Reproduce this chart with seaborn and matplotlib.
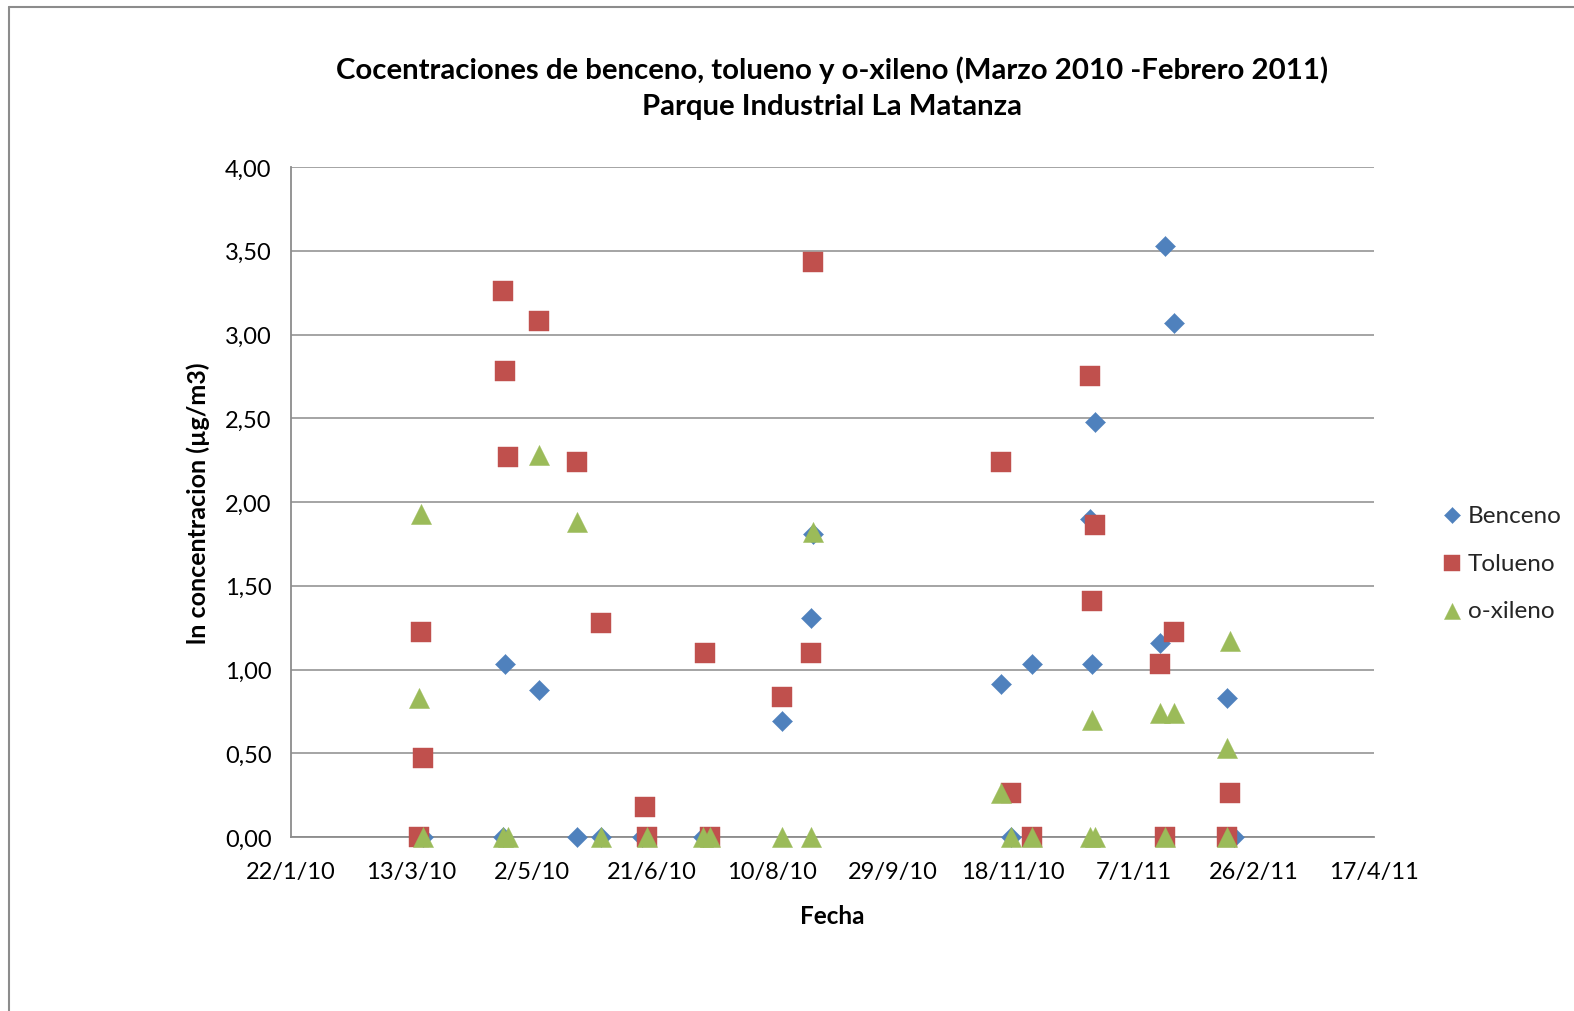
import matplotlib
matplotlib.use("Agg")
import matplotlib.pyplot as plt
import matplotlib.dates as mdates
from matplotlib.lines import Line2D
import seaborn as sns
import pandas as pd

# ---------------- data ----------------
benceno_fechas = ["2010-03-18", "2010-04-20", "2010-04-21", "2010-05-05", "2010-05-21",
                  "2010-05-31", "2010-06-17", "2010-07-12", "2010-08-14", "2010-08-26",
                  "2010-08-27", "2010-11-13", "2010-11-17", "2010-11-26", "2010-12-20",
                  "2010-12-21", "2010-12-22", "2011-01-18", "2011-01-20", "2011-01-24",
                  "2011-02-15", "2011-02-18"]
benceno_vals = [0.00, 0.00, 1.03, 0.875, 0.00,
                0.00, 0.00, 0.00, 0.695, 1.31,
                1.81, 0.915, 0.00, 1.03, 1.90,
                1.03, 2.48, 1.16, 3.53, 3.07,
                0.83, 0.00]

tolueno_fechas = ["2010-03-16", "2010-03-17", "2010-03-18", "2010-04-20", "2010-04-21",
                  "2010-04-22", "2010-05-05", "2010-05-21", "2010-05-31", "2010-06-18",
                  "2010-06-19", "2010-07-13", "2010-07-15", "2010-08-14", "2010-08-26",
                  "2010-08-27", "2010-11-13", "2010-11-17", "2010-11-26", "2010-12-20",
                  "2010-12-21", "2010-12-22", "2011-01-18", "2011-01-20", "2011-01-24",
                  "2011-02-15", "2011-02-16"]
tolueno_vals = [0.00, 1.225, 0.47, 3.26, 2.78,
                2.27, 3.08, 2.24, 1.28, 0.18,
                0.00, 1.10, 0.00, 0.835, 1.10,
                3.43, 2.24, 0.26, 0.00, 2.75,
                1.41, 1.86, 1.03, 0.00, 1.225,
                0.00, 0.26]

xileno_fechas = ["2010-03-16", "2010-03-17", "2010-03-18", "2010-04-20", "2010-04-22",
                 "2010-05-05", "2010-05-21", "2010-05-31", "2010-06-19", "2010-07-12",
                 "2010-07-15", "2010-08-14", "2010-08-26", "2010-08-27", "2010-11-13",
                 "2010-11-17", "2010-11-26", "2010-12-20", "2010-12-21", "2010-12-22",
                 "2011-01-18", "2011-01-20", "2011-01-24", "2011-02-15", "2011-02-15",
                 "2011-02-16"]
xileno_vals = [0.83, 1.93, 0.00, 0.00, 0.00,
               2.28, 1.88, 0.00, 0.00, 0.00,
               0.00, 0.00, 0.00, 1.82, 0.26,
               0.00, 0.00, 0.00, 0.70, 0.00,
               0.74, 0.00, 0.74, 0.53, 0.00,
               1.17]

series_names = ["Benceno", "Tolueno", "o-xileno"]
series_colors = ["#4F81BD", "#C0504D", "#9BBB59"]

y_ticks = [0.0, 0.5, 1.0, 1.5, 2.0, 2.5, 3.0, 3.5, 4.0]
x_start, x_end = "2010-01-22", "2011-04-17"

title_text = "Cocentraciones de benceno, tolueno y o-xileno (Marzo 2010 -Febrero 2011)\nParque Industrial La Matanza"
xlabel_text = "Fecha"
ylabel_text = "ln concentracion (µg/m3)"

# ---------------- figure ----------------
sns.set_theme(style="white")
plt.rcParams["font.family"] = ["Lato", "DejaVu Sans"]

W, H = 1574, 1012
fig = plt.figure(figsize=(W / 100, H / 100), dpi=100)
L, R, T, B = 291, 1374, 168, 838
ax = fig.add_axes([L / W, 1 - B / H, (R - L) / W, (B - T) / H])

frames = {
    "Benceno": pd.DataFrame({"fecha": pd.to_datetime(benceno_fechas), "valor": benceno_vals}),
    "Tolueno": pd.DataFrame({"fecha": pd.to_datetime(tolueno_fechas), "valor": tolueno_vals}),
    "o-xileno": pd.DataFrame({"fecha": pd.to_datetime(xileno_fechas), "valor": xileno_vals}),
}
markers = {"Benceno": "D", "Tolueno": "s", "o-xileno": "^"}
sizes = {"Benceno": 105, "Tolueno": 200, "o-xileno": 210}

for name, col in zip(series_names, series_colors):
    sns.scatterplot(data=frames[name], x="fecha", y="valor", ax=ax,
                    marker=markers[name], s=sizes[name], color=col,
                    edgecolor=col, linewidth=0.3, label=name, zorder=3, clip_on=False)

# axes styling
ax.set_ylim(0, 4)
ax.set_yticks(y_ticks)
ax.set_yticklabels([f"{v:.2f}".replace(".", ",") for v in y_ticks])
ax.set_xlim(pd.Timestamp(x_start), pd.Timestamp(x_end))
xt = pd.date_range(x_start, x_end, freq="50D")
ax.set_xticks(xt)
ax.set_xticklabels([f"{d.day}/{d.month}/{d.year % 100:02d}" for d in xt])

grid_col = "#8C8C8C"
ax.yaxis.grid(True, color=grid_col, linewidth=1.1)
ax.xaxis.grid(False)
for s in ["top", "right"]:
    ax.spines[s].set_visible(False)
for s in ["left", "bottom"]:
    ax.spines[s].set_color(grid_col)
    ax.spines[s].set_linewidth(1.3)
ax.tick_params(axis="both", which="major", direction="out", length=5, width=1.1,
               color=grid_col, labelsize=17, labelcolor="black")
ax.tick_params(axis="x", pad=12)
ax.tick_params(axis="y", pad=9)
ax.set_axisbelow(True)

ax.set_xlabel(xlabel_text, fontsize=17.5, fontweight="bold", labelpad=16, color="black")
ax.set_ylabel(ylabel_text, fontsize=18, fontweight="bold", labelpad=11, color="black")
ax.set_title(title_text, fontsize=21.2, fontweight="bold", pad=38, linespacing=1.5, color="black")

leg = ax.legend(loc="center left", bbox_to_anchor=(1428 / W, 1 - 564 / H),
                bbox_transform=fig.transFigure, frameon=False, fontsize=17.5,
                handletextpad=0.05, labelspacing=1.1, borderaxespad=0,
                markerscale=0.8, handlelength=1.2)

# outer chart border (partially visible)
fig.add_artist(Line2D([9 / W, 9 / W], [0, 1 - 8 / H], transform=fig.transFigure,
                      color="#8C8C8C", linewidth=1.5))
fig.add_artist(Line2D([9 / W, 1.0], [1 - 8 / H, 1 - 8 / H], transform=fig.transFigure,
                      color="#8C8C8C", linewidth=1.5))

fig.savefig("out.png", dpi=100, facecolor="white")
